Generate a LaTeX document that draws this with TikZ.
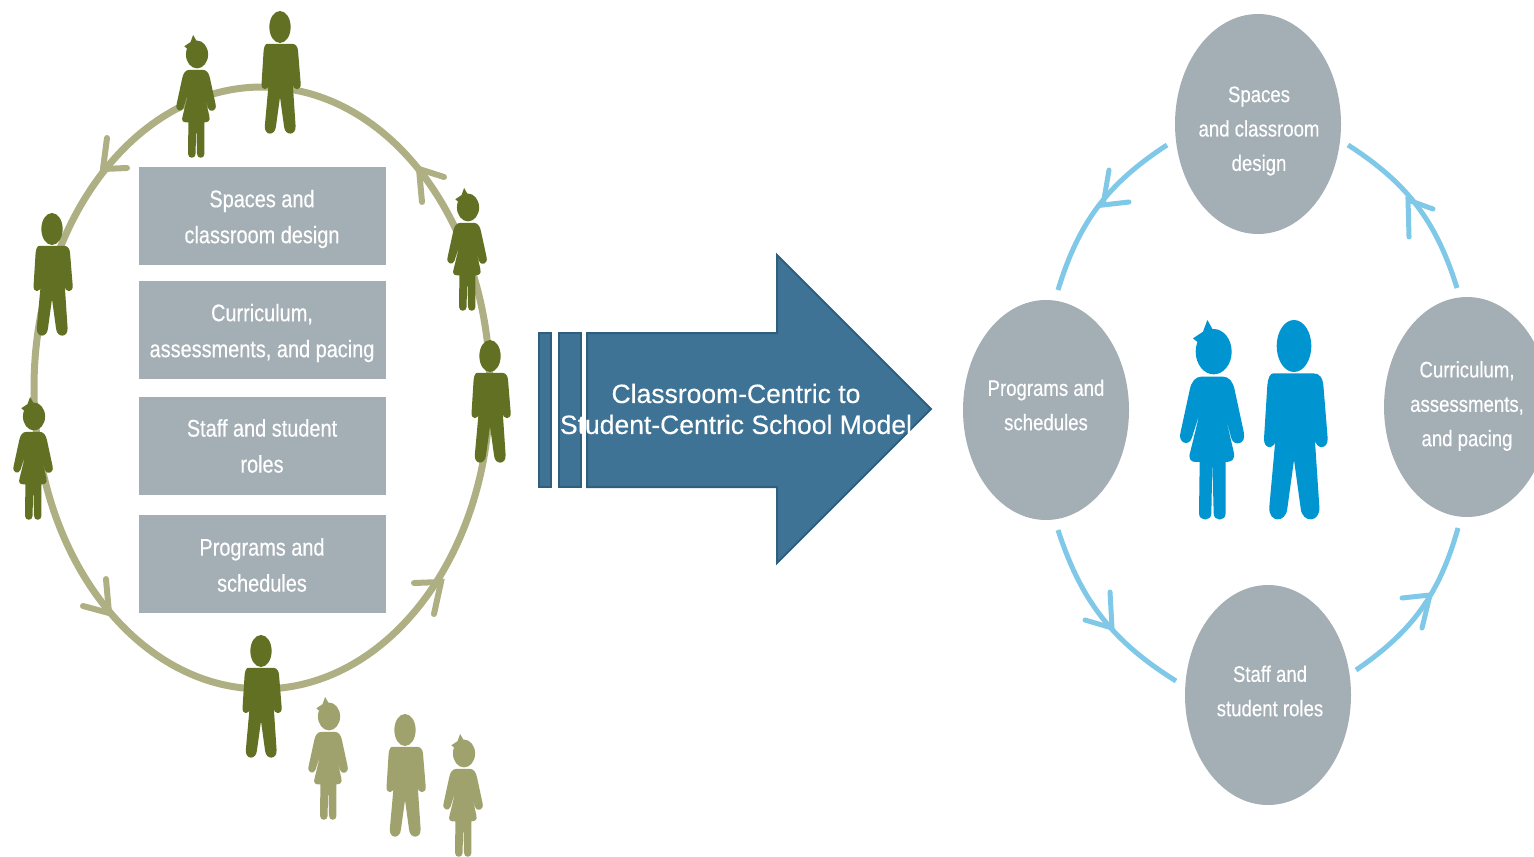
\documentclass[tikz,border=0pt]{standalone}
\usepackage{fontspec}
\setmainfont{Liberation Sans}
\newfontfamily\narrowfont[FakeStretch=0.83,FakeBold=0.4]{Liberation Sans}
\newfontfamily\titlefont[FakeBold=0.3]{Liberation Sans}
\usetikzlibrary{shapes.geometric}
\definecolor{ringc}{HTML}{AEB084}
\definecolor{darkp}{HTML}{617023}
\definecolor{lightp}{HTML}{A0A26E}
\definecolor{bluep}{HTML}{0095D0}
\definecolor{arcc}{HTML}{7FC8E8}
\definecolor{greyc}{HTML}{A4AEB5}
\definecolor{arrowc}{HTML}{3E7396}
\definecolor{arrowe}{HTML}{2F5F7D}
\tikzset{
  x=0.5pt,y=-0.5pt,
  box/.style={fill=greyc,draw=none,minimum width=123.5pt,minimum height=49pt,inner sep=0pt},
  boxtext/.style={text=white,align=center,inner sep=0pt,font=\narrowfont\fontsize{12}{18}\selectfont},
  disc/.style={ellipse,fill=greyc,draw=none,minimum width=83pt,minimum height=110pt,inner sep=0pt},
  disctext/.style={text=white,align=center,inner sep=0pt,font=\narrowfont\fontsize{11.2}{17.2}\selectfont},
  barb/.style={draw=ringc,line width=3pt,line cap=round},
  arcline/.style={draw=arcc,line width=2.5pt},
  arcbarb/.style={draw=arcc,line width=2.5pt,line cap=round},
  arrowpart/.style={fill=arrowc,draw=arrowe,line width=1pt},
  strip/.style={fill=arrowc,draw=arrowe,line width=1.2pt},
  pics/boy/.style 2 args={code={
    \begin{scope}[scale=#2,shift={(-372,-30)}]
      \fill[#1] (372,108) ellipse [x radius=52,y radius=78];
      \fill[#1] (310,190) -- (430,190) .. controls (450,190) and (458,205) .. (460,225)
        -- (473,385) .. controls (475,420) and (436,420) .. (434,385) -- (428,290)
        -- (448,590) .. controls (452,640) and (396,640) .. (392,595) -- (372,450)
        -- (352,595) .. controls (348,640) and (294,640) .. (298,590) -- (325,290)
        -- (318,385) .. controls (316,420) and (280,420) .. (282,385)
        -- (292,225) .. controls (294,205) and (300,190) .. (310,190) -- cycle;
    \end{scope}}},
  pics/girl/.style 2 args={code={
    \begin{scope}[scale=#2,shift={(-127,-30)}]
      \fill[#1] (132,125) ellipse [x radius=54,y radius=68];
      \fill[#1] (70,85) -- (100,65) -- (113,30) -- (130,60) -- (100,110) -- cycle;
      \fill[#1] (95,200) -- (160,200) .. controls (178,200) and (190,215) .. (195,240)
        -- (222,365) .. controls (232,405) and (192,410) .. (185,385) -- (165,310)
        -- (192,425) .. controls (198,450) and (185,456) .. (168,456)
        -- (168,610) .. controls (168,635) and (132,635) .. (132,610) -- (128,456)
        -- (125,610) .. controls (125,635) and (88,635) .. (88,610) -- (90,456)
        -- (78,456) .. controls (62,456) and (55,445) .. (62,425) -- (90,310)
        -- (66,385) .. controls (58,410) and (22,400) .. (33,365)
        -- (60,240) .. controls (65,215) and (77,200) .. (95,200) -- cycle;
    \end{scope}}}
}
\begin{document}
\begin{tikzpicture}
\clip (0,0) rectangle (1534,856);
\useasboundingbox (0,0) rectangle (1534,856);

% left ring
\node[ellipse,draw=ringc,line width=3.5pt,minimum width=228pt,minimum height=301pt,inner sep=0pt] (ring) at (262,388) {};
\coordinate (t1) at (103,169); \coordinate (b1a) at (107,138); \coordinate (b1b) at (127,168);
\coordinate (t2) at (419,169); \coordinate (b2a) at (444,177); \coordinate (b2b) at (422,202);
\coordinate (t3) at (109,613); \coordinate (b3a) at (106,579); \coordinate (b3b) at (83,606);
\coordinate (t4) at (441,582); \coordinate (b4a) at (414,583); \coordinate (b4b) at (434,614);
\draw[barb] (b1a) -- (t1) -- (b1b);
\draw[barb] (b2a) -- (t2) -- (b2b);
\draw[barb] (b3a) -- (t3) -- (b3b);
\draw[barb] (b4a) -- (t4) -- (b4b);

% boxes
\node[box] (b1) at (262.5,216) {};
\node[box] (b2) at (262.5,329.5) {};
\node[box] (b3) at (262.5,446) {};
\node[box] (b4) at (262.5,563.5) {};
\node[boxtext] (b1t) at (262,219) {Spaces and\\classroom design};
\node[boxtext] (b2t) at (262,333) {Curriculum,\\assessments, and pacing};
\node[boxtext] (b3t) at (262,446) {Staff and student\\roles};
\node[boxtext] (b4t) at (262,565) {Programs and\\schedules};

% people on the ring
\pic (pa) at (280,11) {boy={darkp}{0.205}};
\pic (pb) at (52,213) {boy={darkp}{0.205}};
\pic (pc) at (490,340) {boy={darkp}{0.205}};
\pic (pd) at (261,635) {boy={darkp}{0.205}};
\pic (pe) at (196,35) {girl={darkp}{0.205}};
\pic (pf) at (467,188) {girl={darkp}{0.205}};
\pic (pg) at (33,397) {girl={darkp}{0.205}};
\pic (ph) at (405,714) {boy={lightp}{0.205}};
\pic (pi) at (328,697) {girl={lightp}{0.205}};
\pic (pj) at (463,734) {girl={lightp}{0.205}};

% big arrow
\draw[strip] (539,333) rectangle (551,487);
\draw[strip] (559,333) rectangle (581,487);
\draw[arrowpart] (587,333) -- (777,333) -- (777,255) -- (931,409) -- (777,563) -- (777,487) -- (587,487) -- cycle;
\node[text=white,align=center,font=\titlefont\fontsize{13.25}{15.5}\selectfont,inner sep=0pt] (title) at (736,409) {Classroom-Centric to\\Student-Centric School Model};

% right discs
\node[disc] (d1) at (1258,124) {};
\node[disc] (d2) at (1467,407) {};
\node[disc] (d3) at (1268,695) {};
\node[disc] (d4) at (1046,410) {};
\node[disctext] (d1t) at (1259,131) {Spaces\\and classroom\\design};
\node[disctext] (d2t) at (1467,406) {Curriculum,\\assessments,\\and pacing};
\node[disctext] (d3t) at (1270,691) {Staff and\\student roles};
\node[disctext] (d4t) at (1046,405) {Programs and\\schedules};

% right arcs
\coordinate (e1) at (1167,145); \coordinate (e2) at (1058,290);
\coordinate (e3) at (1457,288); \coordinate (e4) at (1348,145);
\coordinate (e5) at (1058,530); \coordinate (e6) at (1176,681);
\coordinate (e7) at (1356,670); \coordinate (e8) at (1458,528);
\draw[arcline] (e1) to[bend right=20] (e2);
\draw[arcline] (e3) to[bend right=20] (e4);
\draw[arcline] (e5) to[bend right=20] (e6);
\draw[arcline] (e7) to[bend right=20] (e8);
\coordinate (s1) at (1103,205); \coordinate (s1a) at (1109,170); \coordinate (s1b) at (1129,202);
\coordinate (s2) at (1408,200); \coordinate (s2a) at (1433,209); \coordinate (s2b) at (1409,237);
\coordinate (s3) at (1112,628); \coordinate (s3a) at (1110,592); \coordinate (s3b) at (1085,620);
\coordinate (s4) at (1430,595); \coordinate (s4a) at (1402,598); \coordinate (s4b) at (1422,628);
\draw[arcbarb] (s1a) -- (s1) -- (s1b);
\draw[arcbarb] (s2a) -- (s2) -- (s2b);
\draw[arcbarb] (s3a) -- (s3) -- (s3b);
\draw[arcbarb] (s4a) -- (s4) -- (s4b);

% central pair
\pic (pk) at (1212,320) {girl={bluep}{0.3333}};
\pic (pl) at (1294,320) {boy={bluep}{0.3333}};
\end{tikzpicture}
\end{document}
